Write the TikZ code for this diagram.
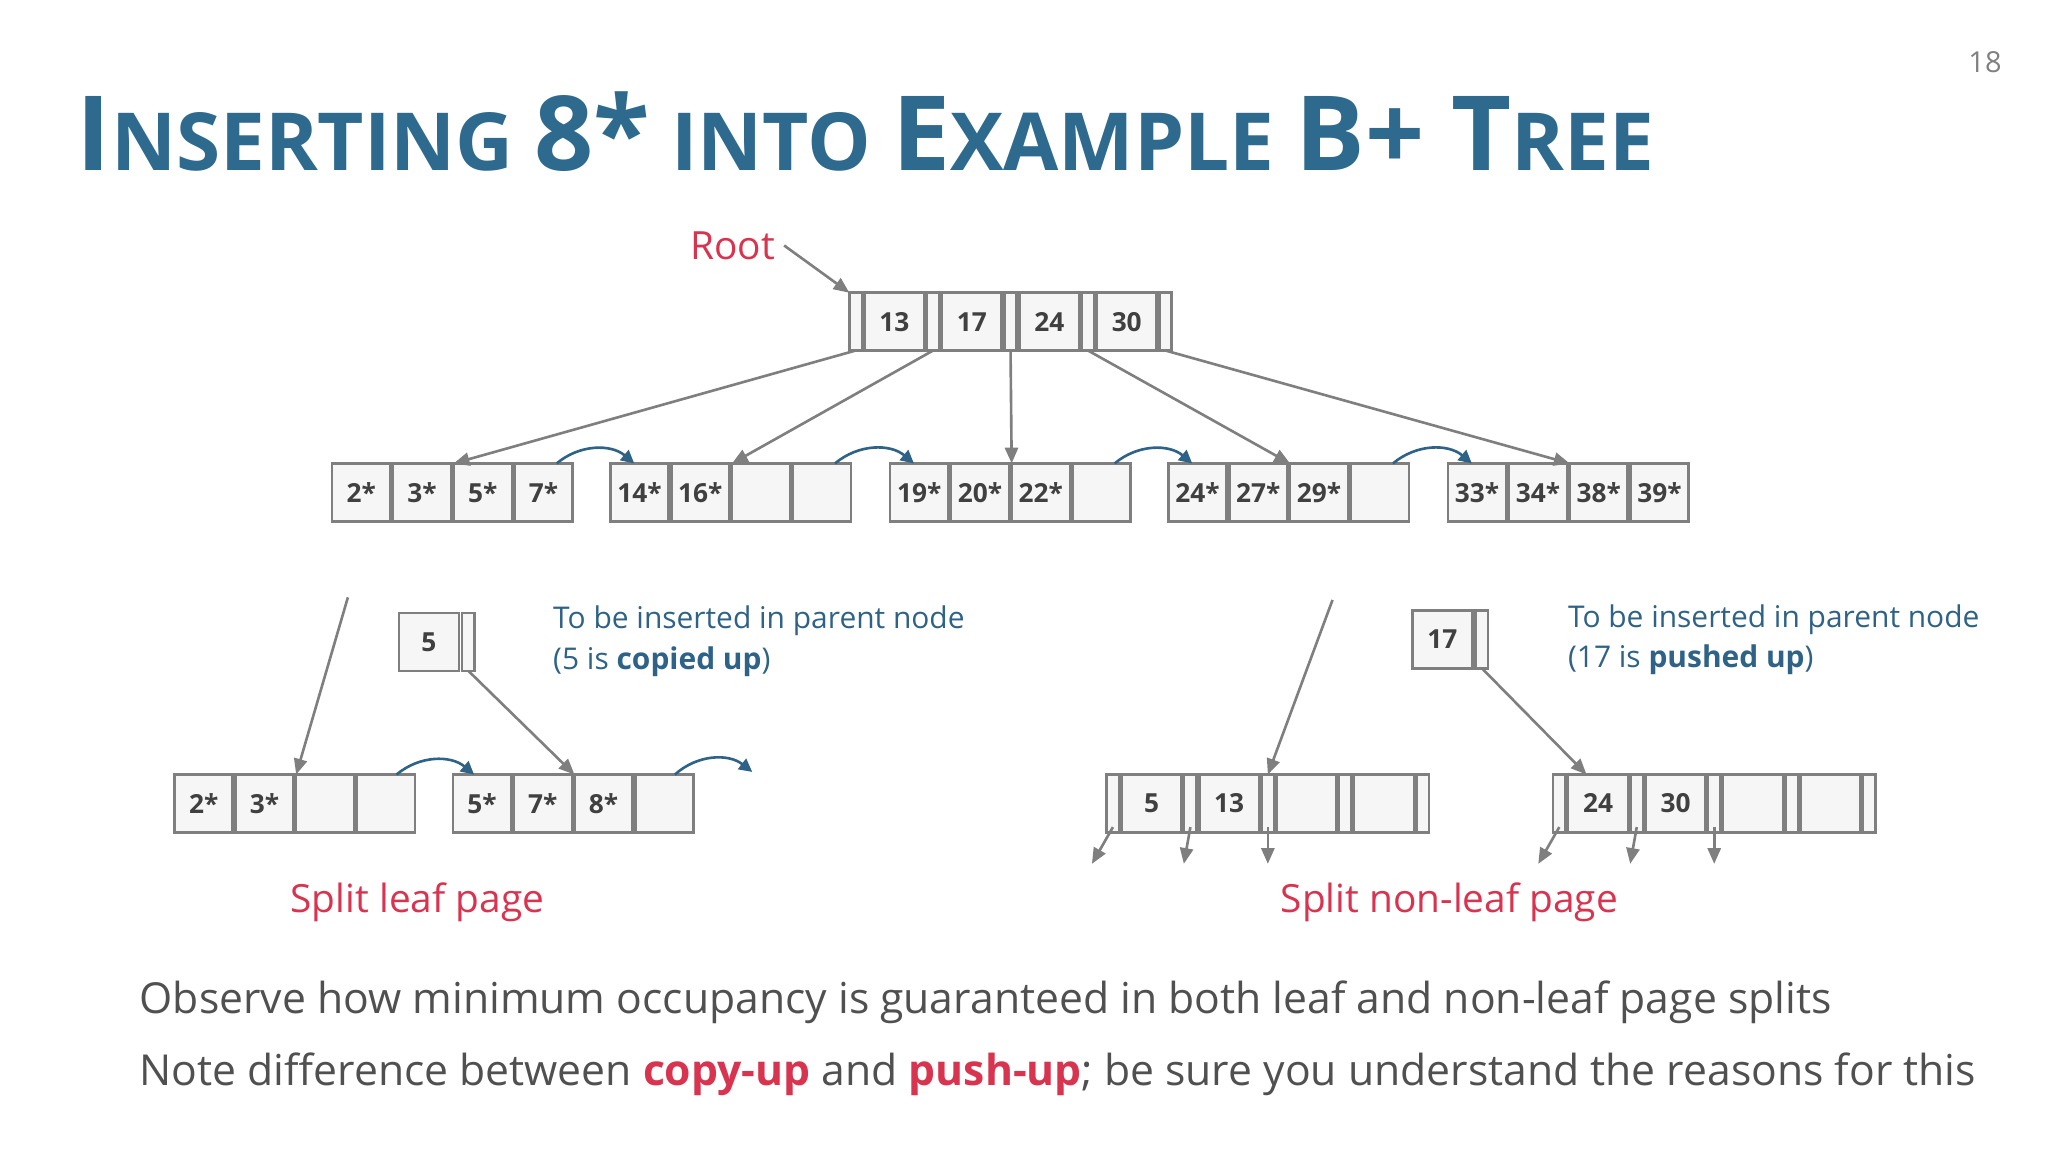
\documentclass[tikz,border=0pt]{standalone}
\usepackage{fontspec}
\setmainfont{Open Sans}
\usetikzlibrary{positioning}
\usetikzlibrary{arrows.meta}
\definecolor{titleblue}{HTML}{2E6A8E}
\definecolor{noteblue}{HTML}{2E6286}
\definecolor{rootred}{HTML}{D9344F}
\definecolor{cellgray}{HTML}{7F7F7F}
\definecolor{textgray}{HTML}{505050}

\tikzset{
  cell/.style={draw=cellgray, line width=1pt, fill=gray!7, inner sep=0pt, outer sep=0pt,
    minimum height=22pt, font=\bfseries\fontsize{10}{12}\selectfont, text=textgray!80!black},
  leafcell/.style={cell, minimum width=22.15pt},
  slot/.style={cell, minimum width=4.75pt},
  key/.style={cell, minimum width=22.75pt},
  ptr/.style={draw=cellgray, line width=1pt, -{Triangle[length=6pt,width=5pt]}},
  sib/.style={draw=noteblue, line width=1pt, -{Triangle[length=5pt,width=5pt]}, bend left=40},
  note/.style={text=noteblue, font=\fontsize{11.4}{15.5}\selectfont, align=left, anchor=north west, inner sep=0pt},
  caption/.style={text=rootred, font=\fontsize{14.8}{18}\selectfont}
}

% leaf page: name, x, y, four labels
\newcommand\leafpage[4]{%
  \foreach \lab [count=\i] in {#4} {
    \node[leafcell, anchor=north west] (#1c\i) at ({#2+(\i-1)*46.3},#3) {\lab};
  }
}
% index page: name, x, y, four keys
\newcommand\idxpage[4]{%
  \node[slot, anchor=north west] (#1s0) at (#2,#3) {};
  \foreach \lab [count=\i] in {#4} {
    \node[key, anchor=north west] (#1k\i) at ({#2+11.5+(\i-1)*59},#3) {\lab};
    \node[slot, anchor=north west] (#1s\i) at ({#2+\i*59},#3) {};
  }
}

\begin{document}
\begin{tikzpicture}[x=0.5pt,y=-0.5pt]
\useasboundingbox (0,0) rectangle (1560,877.5);

% title and page number
\node[anchor=base west, inner sep=0pt, text=titleblue, font=\bfseries] (title) at (58,130)
  {\fontsize{39.5}{48}\selectfont I\fontsize{30.5}{36}\selectfont NSERTING
   \fontsize{39.5}{48}\selectfont 8*\fontsize{30.5}{36}\selectfont\ INTO
   \fontsize{39.5}{48}\selectfont E\fontsize{30.5}{36}\selectfont XAMPLE
   \fontsize{39.5}{48}\selectfont B+ T\fontsize{30.5}{36}\selectfont REE};
\node[text=gray, font=\fontsize{11}{13}\selectfont] (page) at (1512,47) {18};

% root
\node[caption] (root) at (558,187) {Root};
\idxpage{r}{647}{223}{13,17,24,30}
\draw[ptr] (root.east) -- (rs0.north west);

% leaf level
\leafpage{la}{253}{353}{2*,3*,5*,7*}
\leafpage{lb}{465}{353}{14*,16*,{},{}}
\leafpage{lc}{678}{353}{19*,20*,22*,{}}
\leafpage{ld}{890}{353}{24*,27*,29*,{}}
\leafpage{le}{1103}{353}{33*,34*,38*,39*}

\draw[ptr] (rs0.south) -- (lac3.north west);
\draw[ptr] (rs1.south) -- (lbc3.north west);
\draw[ptr] (rs2.south) -- (lcc3.north west);
\draw[ptr] (rs3.south) -- (ldc3.north west);
\draw[ptr] (rs4.south) -- (lec3.north west);

\draw[sib] ([xshift=5pt]lac4.north) to ([xshift=-2pt]lbc1.north);
\draw[sib] ([xshift=5pt]lbc4.north) to ([xshift=-2pt]lcc1.north);
\draw[sib] ([xshift=5pt]lcc4.north) to ([xshift=-2pt]ldc1.north);
\draw[sib] ([xshift=5pt]ldc4.north) to ([xshift=-2pt]lec1.north);

% split leaf page
\leafpage{ba}{133}{590}{2*,3*,{},{}}
\leafpage{bb}{345}{590}{5*,7*,8*,{}}
\node[key, anchor=north west] (five) at (304,467) {5};
\node[slot, anchor=north west] (fives) at (352,467) {};
\coordinate (upa) at (265,455);
\coordinate (free) at (573,588);
\draw[ptr] (upa) -- (bac3.north west);
\draw[ptr] (fives.south) -- (bbc3.north west);
\draw[sib] ([xshift=4pt]bac4.north) to ([xshift=-3pt]bbc1.north);
\draw[sib] ([xshift=4pt]bbc4.north) to (free);
\node[note] (noteleaf) at (421,461) {To be inserted in parent node\\(5 is \textbf{copied up})};
\node[caption] (capleaf) at (318,687) {Split leaf page};

% split non-leaf page
\idxpage{na}{843}{590}{5,13,{},{}}
\idxpage{nb}{1183}{590}{24,30,{},{}}
\node[key, anchor=north west] (seventeen) at (1076,465) {17};
\node[slot, anchor=north west] (seventeens) at (1124,465) {};
\coordinate (upb) at (1015,457);
\draw[ptr] (upb) -- (nas2.north);
\draw[ptr] (seventeens.south) -- ([xshift=7pt]nbk1.north west);
\foreach \n in {na,nb} {
  \draw[ptr] ([yshift=2pt]\n s0.south) -- +(-8pt,-14pt);
  \draw[ptr] ([yshift=2pt]\n s1.south) -- +(-2.5pt,-14pt);
  \draw[ptr] ([yshift=2pt]\n s2.south) -- +(0pt,-14pt);
}
\node[note] (notenonleaf) at (1194,460) {To be inserted in parent node\\(17 is \textbf{pushed up})};
\node[caption] (capnonleaf) at (1104,687) {Split non-leaf page};

% remarks
\node[anchor=base west, inner sep=0pt, text=textgray, font=\fontsize{16.25}{20}\selectfont] (obs) at (106,772)
  {Observe how minimum occupancy is guaranteed in both leaf and non-leaf page splits};
\node[anchor=base west, inner sep=0pt, text=textgray, font=\fontsize{16.25}{20}\selectfont] (diff) at (106,827)
  {Note difference between \textcolor{rootred}{\textbf{copy-up}} and \textcolor{rootred}{\textbf{push-up}}; be sure you understand the reasons for this};
\end{tikzpicture}
\end{document}
